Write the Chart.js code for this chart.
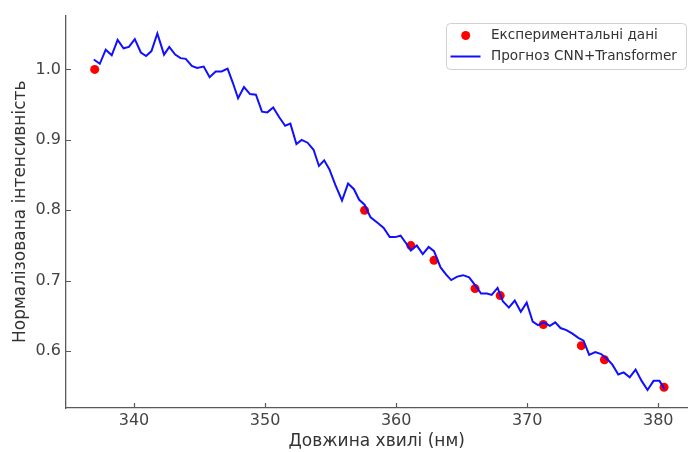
<!DOCTYPE html>
<html>
<head>
<meta charset="utf-8">
<script src="https://cdn.jsdelivr.net/npm/chart.js@4/dist/chart.umd.min.js"></script>
<style>
html,body{margin:0;padding:0;background:#fff;overflow:hidden;}
#c{display:block;}
</style>
</head>
<body>
<canvas id="c" width="692" height="452"></canvas>
<script>
// ---- data ----
const predWavelength = [336.93,337.39,337.84,338.30,338.75,339.20,339.61,340.06,340.52,340.92,341.33,341.78,342.29,342.69,343.14,343.55,343.95,344.41,344.81,345.32,345.77,346.23,346.68,347.14,347.54,347.94,348.39,348.85,349.30,349.76,350.17,350.62,351.08,351.53,351.93,352.39,352.79,353.24,353.70,354.11,354.51,354.91,355.36,355.87,356.33,356.78,357.18,357.59,358.05,358.60,359.05,359.51,359.92,360.34,360.77,361.12,361.58,362.03,362.48,362.89,363.39,363.80,364.20,364.66,365.11,365.57,366.02,366.48,366.93,367.29,367.74,368.14,368.60,369.05,369.51,369.96,370.42,370.82,371.27,371.73,372.14,372.54,372.99,373.45,373.90,374.30,374.73,375.19,375.64,376.10,376.50,376.95,377.36,377.82,378.27,378.73,379.18,379.64,380.09,380.49];
const predIntensity = [1.014,1.008,1.028,1.020,1.042,1.030,1.032,1.043,1.024,1.019,1.026,1.051,1.021,1.032,1.021,1.016,1.015,1.005,1.002,1.004,0.989,0.997,0.997,1.001,0.981,0.959,0.975,0.965,0.964,0.940,0.939,0.946,0.932,0.920,0.923,0.894,0.900,0.896,0.886,0.863,0.871,0.858,0.836,0.814,0.838,0.830,0.815,0.808,0.790,0.782,0.775,0.762,0.762,0.764,0.753,0.743,0.750,0.738,0.748,0.742,0.719,0.709,0.701,0.706,0.708,0.705,0.694,0.682,0.682,0.680,0.690,0.671,0.662,0.672,0.656,0.669,0.642,0.637,0.641,0.636,0.641,0.633,0.630,0.625,0.619,0.615,0.595,0.599,0.596,0.589,0.581,0.567,0.570,0.563,0.574,0.558,0.545,0.558,0.558,0.546];
const expWavelength = [337.0,357.59,361.12,362.89,366.02,367.94,371.23,374.13,375.89,380.44];
const expIntensity = [1.000,0.800,0.750,0.729,0.689,0.679,0.638,0.608,0.588,0.549];
const xTickValues = [340,350,360,370,380];
const yTickValues = [0.6,0.7,0.8,0.9,1.0];
const seriesNames = ['Експериментальні дані','Прогноз CNN+Transformer'];
const xTitle = 'Довжина хвилі (нм)';
const yTitle = 'Нормалізована інтенсивність';

const FONT = "'DejaVu Sans', sans-serif";
const AXIS_COLOR = '#5a5a5a';

const inwardTicks = {
  id: 'inwardTicks',
  afterDatasetsDraw(chart) {
    const ctx = chart.ctx, area = chart.chartArea;
    const xs = chart.scales.x, ys = chart.scales.y;
    ctx.save();
    ctx.strokeStyle = AXIS_COLOR;
    ctx.lineWidth = 1.2;
    ctx.beginPath();
    xs.ticks.forEach(t => {
      const px = Math.round(xs.getPixelForValue(t.value)) + 0.5;
      ctx.moveTo(px, area.bottom);
      ctx.lineTo(px, area.bottom - 5);
    });
    ys.ticks.forEach(t => {
      const py = Math.round(ys.getPixelForValue(t.value)) + 0.5;
      ctx.moveTo(area.left, py);
      ctx.lineTo(area.left + 5, py);
    });
    ctx.stroke();
    ctx.restore();
  }
};

const boxLegend = {
  id: 'boxLegend',
  afterDraw(chart) {
    const ctx = chart.ctx;
    const x0 = 446, y0 = 23, w = 240, h = 46, r = 4;
    ctx.save();
    ctx.fillStyle = 'rgba(255,255,255,0.85)';
    ctx.strokeStyle = '#d0d0d0';
    ctx.lineWidth = 1;
    ctx.beginPath();
    ctx.roundRect(x0 + 0.5, y0 + 0.5, w, h, r);
    ctx.fill();
    ctx.stroke();
    const ds = chart.data.datasets;
    const rowY1 = 35.5, rowY2 = 56.5;
    ctx.fillStyle = ds[1].backgroundColor;
    ctx.beginPath();
    ctx.arc(465.7, rowY1, 4.5, 0, Math.PI * 2);
    ctx.fill();
    ctx.strokeStyle = ds[0].borderColor;
    ctx.lineWidth = 2;
    ctx.beginPath();
    ctx.moveTo(450.5, rowY2);
    ctx.lineTo(480.5, rowY2);
    ctx.stroke();
    ctx.fillStyle = '#333';
    ctx.font = '13.6px ' + FONT;
    ctx.textBaseline = 'middle';
    ctx.textAlign = 'left';
    ctx.fillText(ds[1].label, 491, rowY1);
    ctx.fillText(ds[0].label, 491, rowY2);
    ctx.restore();
  }
};

new Chart(document.getElementById('c'), {
  type: 'scatter',
  data: {
    datasets: [
      {
        label: seriesNames[1],
        data: predWavelength.map((x, i) => ({x: x, y: predIntensity[i]})),
        showLine: true,
        borderColor: '#1010ff',
        backgroundColor: '#1010ff',
        borderWidth: 2,
        pointRadius: 0,
        tension: 0,
        order: 0
      },
      {
        label: seriesNames[0],
        data: expWavelength.map((x, i) => ({x: x, y: expIntensity[i]})),
        showLine: false,
        backgroundColor: '#ff0000',
        borderColor: '#ff0000',
        pointRadius: 4.5,
        pointBorderWidth: 0,
        order: 1
      }
    ]
  },
  options: {
    responsive: false,
    animation: false,
    devicePixelRatio: 1,
    layout: {padding: {left: 0, right: 0, top: 15.5, bottom: 0}},
    plugins: {legend: {display: false}, tooltip: {enabled: false}},
    scales: {
      x: {
        type: 'linear',
        min: 334.81,
        max: 382.23,
        afterBuildTicks: s => { s.ticks = xTickValues.map(v => ({value: v})); },
        afterFit: s => { s.height = 44; },
        grid: {display: false, drawTicks: false},
        border: {display: true, color: AXIS_COLOR, width: 1.3},
        ticks: {font: {family: FONT, size: 16}, color: '#444', padding: 3, maxRotation: 0,
                callback: v => String(v)},
        title: {display: true, text: xTitle, font: {family: FONT, size: 17}, color: '#333',
                padding: {top: 0, bottom: 0}}
      },
      y: {
        type: 'linear',
        min: 0.5195,
        max: 1.0765,
        afterBuildTicks: s => { s.ticks = yTickValues.map(v => ({value: v})); },
        afterFit: s => { s.width = 66; },
        grid: {display: false, drawTicks: false},
        border: {display: true, color: AXIS_COLOR, width: 1.3},
        ticks: {font: {family: FONT, size: 16}, color: '#444', padding: 5,
                callback: v => Number(v).toFixed(1)},
        title: {display: true, text: yTitle, font: {family: FONT, size: 17}, color: '#333',
                padding: {top: 10, bottom: 0}}
      }
    }
  },
  plugins: [inwardTicks, boxLegend]
});
</script>
</body>
</html>
